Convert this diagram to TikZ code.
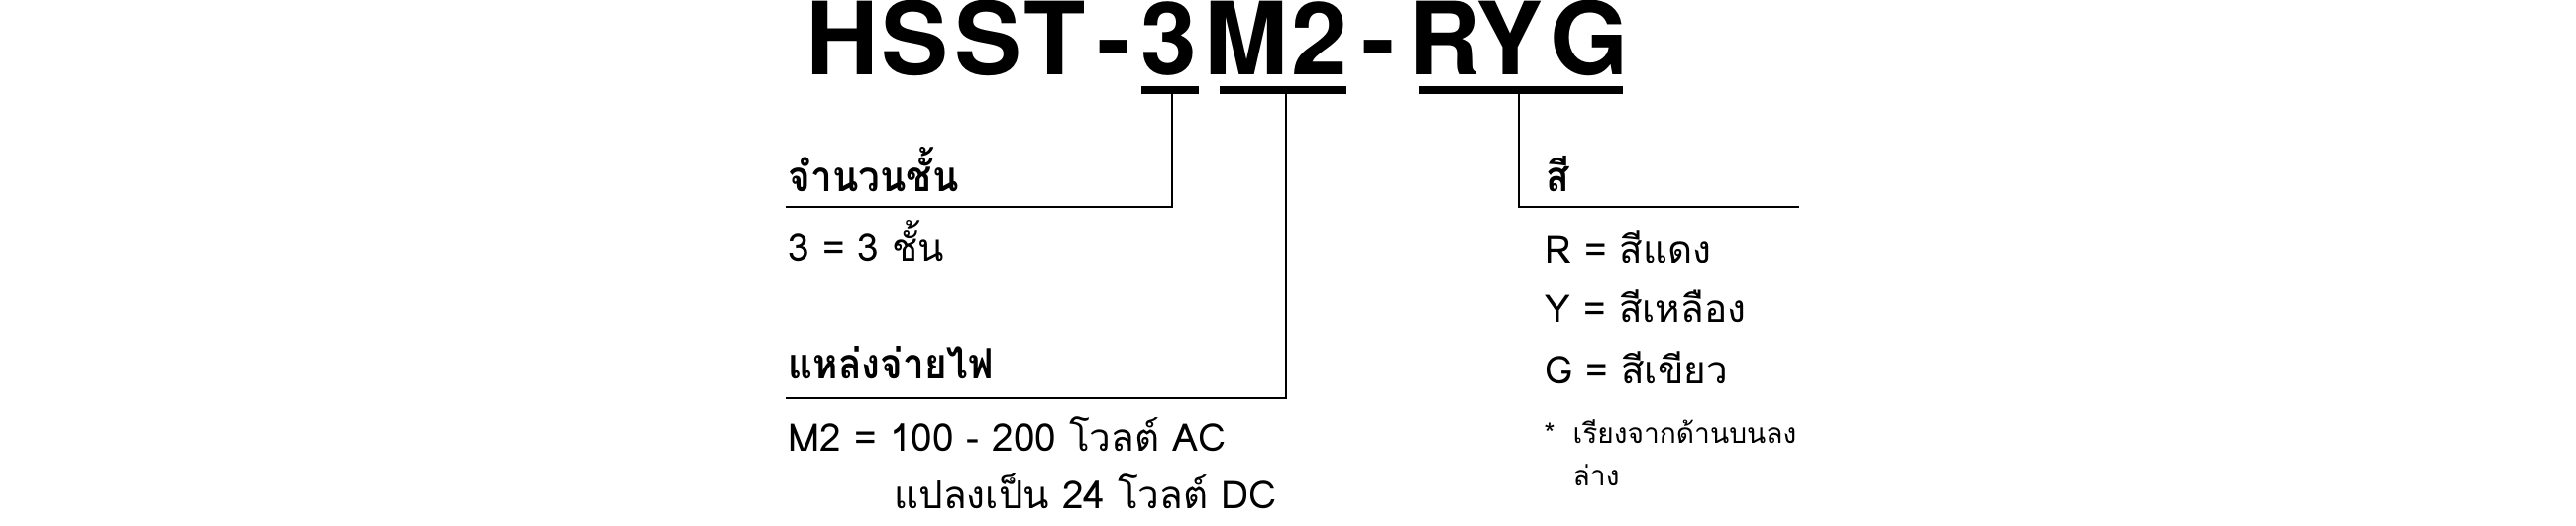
\documentclass[tikz,border=0pt]{standalone}
\usepackage{fontspec}
\newfontfamily\herosfont{TeX Gyre Heros}
\newfontfamily\thaifont[Script=Thai]{Loma}
\newcommand\tallhead[1]{\scalebox{1}[1.1]{#1}}

\begin{document}
\begin{tikzpicture}
[x=0.01cm,y=-0.01cm,%
  titledecorate/.style={font=\herosfont\bfseries\fontsize{29}{29}\selectfont,inner sep=0pt,anchor=base},%
  headdecorate/.style={font=\thaifont\bfseries\fontsize{11}{13}\selectfont,inner sep=0pt,anchor=base west},%
  textdecorate/.style={font=\thaifont\fontsize{11}{13}\selectfont,inner sep=0pt,anchor=base west},%
  notedecorate/.style={font=\thaifont\fontsize{8}{10}\selectfont,inner sep=0pt,anchor=base west},%
  underdecorate/.style={-,line width=2.2pt},%
  linedecorate/.style={-,line width=0.6pt,to path={|- (\tikztotarget)}}]
\useasboundingbox (0,0) rectangle (2600,530);
%% model code, letter by letter
\foreach \nodename/\letter/\x in {
  tH/H/850, tS/S/924, tSS/S/997, tT/T/1065, tA/-/1124.5, t3/3/1180,
  tM/M/1258, t2/2/1332, tB/-/1391.5, tR/R/1458, tY/Y/1523, tG/G/1604}
{
  \node (\nodename) at (\x,75) [titledecorate] {\letter};
}
%% underlines of the code parts
\foreach \partname/\xa/\xb in {3/1152/1210, M2/1231/1359, RYG/1432/1638}
{
  \draw[underdecorate] (\xa,91) coordinate (\partname w) -- (\xb,91) coordinate (\partname e);
}
%% headings and values
\node (level) at (795,193) [headdecorate] {\tallhead{จำนวนชั้น}};
\node (levelA) at (795,263) [textdecorate] {3 = 3 ชั้น};
\node (power) at (795,382) [headdecorate] {\tallhead{แหล่งจ่ายไฟ}};
\node (powerA) at (795,455) [textdecorate] {M2 = 100 - 200 โวลต์ AC};
\node (powerB) at (902,513) [textdecorate] {แปลงเป็น 24 โวลต์ DC};
\node (colour) at (1560,193) [headdecorate] {\tallhead{สี}};
\node (colourR) at (1559,265) [textdecorate] {R = สีแดง};
\node (colourY) at (1559,325) [textdecorate] {Y = สีเหลือง};
\node (colourG) at (1559,387) [textdecorate] {G = สีเขียว};
\node (star) at (1558,447) [notedecorate] {*};
\node (noteA) at (1587,447) [notedecorate] {เรียงจากด้านบนลง};
\node (noteB) at (1587,490) [notedecorate] {ล่าง};
%% leader lines
\coordinate (j3) at (1183,95);
\coordinate (jM2) at (1298,95);
\coordinate (jRYG) at (1533,95);
\coordinate (levelend) at (793,209);
\coordinate (powerend) at (793,402);
\coordinate (colourend) at (1816,209);
\path
\foreach \startnode/\endnode in {j3/levelend, jM2/powerend, jRYG/colourend} {
  (\startnode) edge[linedecorate] (\endnode)
};
\end{tikzpicture}
\end{document}
